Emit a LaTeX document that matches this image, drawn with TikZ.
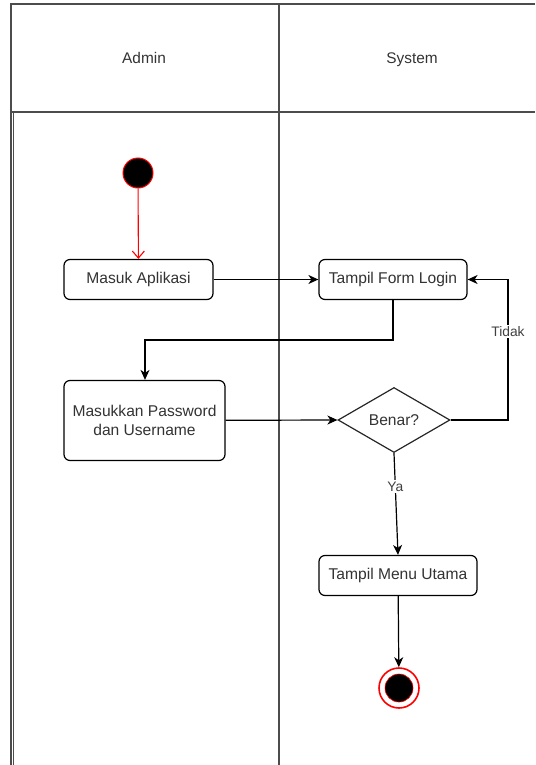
\documentclass[tikz,border=0pt]{standalone}
\usepackage{fontspec}
\setmainfont{Liberation Sans}
\usetikzlibrary{arrows.meta,shapes.geometric}

\tikzset{
  lane/.style={draw=black!70, line width=1.4pt},
  actbox/.style={draw=black, line width=1.2pt, rounded corners=6pt, fill=white,
    text=black!80, font=\fontsize{15.6}{18.5}\selectfont, inner sep=0pt, align=center},
  choice/.style={draw=black!85, line width=1.2pt, diamond, aspect=1.72, fill=white,
    text=black!80, font=\fontsize{15.6}{18.5}\selectfont, inner sep=0pt,
    minimum width=112pt, minimum height=65pt},
  flow/.style={draw=black, line width=1.2pt, -{Stealth[length=10pt,width=9pt,inset=3pt]}},
  startflow/.style={draw=red, line width=1.1pt, -{Straight Barb[length=7pt,width=12pt]}},
  guard/.style={fill=white, text=black!75, font=\fontsize{13.8}{16}\selectfont, inner sep=1.5pt},
  header/.style={text=black!80, font=\fontsize{15.4}{18}\selectfont, anchor=base}
}

\begin{document}
\begin{tikzpicture}[x=1pt,y=-1pt]
\useasboundingbox (0,0) rectangle (535,765);

% swimlanes
\draw[lane] (11,765) -- (11,4) -- (535,4);
\draw[lane] (11,112) -- (535,112);
\draw[lane] (279,4) -- (279,765);
\draw[black!70, line width=0.8pt] (13.2,112) -- (13.2,765);
\node[header] (hadmin) at (144,63.5) {Admin};
\node[header] (hsys) at (412,63.5) {System};

% activities
\node[actbox, minimum width=149pt, minimum height=40pt] (masuk) at (138.5,279.5) {Masuk Aplikasi};
\node[actbox, minimum width=148pt, minimum height=40pt] (form) at (393,279.5) {Tampil Form Login};
\node[actbox, minimum width=161pt, minimum height=80pt] (input) at (144.5,420.5) {Masukkan Password\\[1pt]dan Username};
\node[choice] (benar) at (394,420) {Benar?};
\node[actbox, minimum width=158pt, minimum height=40pt] (menu) at (398,575.5) {Tampil Menu Utama};

% initial and final states
\node[circle, fill=black, draw=red, line width=1pt, minimum size=30pt, inner sep=0pt] (start) at (138,173) {};
\node[circle, fill=white, draw=red, line width=1.6pt, minimum size=40pt, inner sep=0pt] (stop) at (399,688) {};
\node[circle, fill=black, draw=red, line width=0.6pt, minimum size=28pt, inner sep=0pt] (stopdot) at (stop.center) {};

% flows
\draw[startflow] (start) -- (masuk);
\draw[flow] (masuk) -- (form);
\draw[flow] (form.south) |- (145,340) -- (input.north -| 145,0);
\draw[flow] (input) -- (benar.west);
\draw[flow] (benar.east) -- (508,420) -- (508,279.5) node[guard, pos=0.63] (tidak) {Tidak} -- (form.east);
\draw[flow] (benar.south) -- (menu.north) node[guard, pos=0.33] (ya) {Ya};
\draw[flow] (menu) -- (stop);
\end{tikzpicture}
\end{document}
